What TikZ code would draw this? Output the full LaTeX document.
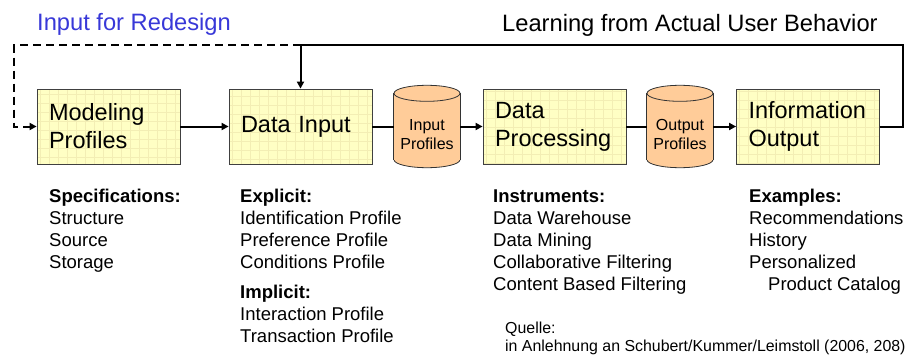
\documentclass[tikz,border=0pt]{standalone}
\usepackage{fontspec}
\setmainfont{Liberation Sans}
\usetikzlibrary{arrows.meta,calc,backgrounds}
\definecolor{boxfill}{HTML}{FFFFC4}
\definecolor{boxgrid}{HTML}{F3EEB4}
\definecolor{cylfill}{HTML}{FFCC99}
\definecolor{redesign}{HTML}{3838D8}

\begin{document}
\begin{tikzpicture}[x=1pt,y=-1pt,
    box/.style={rectangle, draw=black!75, line width=0.8pt, fill=boxfill,
        minimum width=143pt, minimum height=75pt, text width=119pt, inner xsep=12pt,
        align=left, font=\fontsize{23.5}{28}\selectfont,
        path picture={\draw[boxgrid, line width=0.4pt, step=9pt]
            (path picture bounding box.south west) grid (path picture bounding box.north east);}},
    store/.style={rectangle, minimum width=66pt, minimum height=66pt, inner sep=0pt,
        align=center, font=\fontsize{16}{19}\selectfont},
    cylline/.style={draw=black!80, line width=0.8pt, fill=cylfill},
    flow/.style={line width=2pt},
    tip/.style={-{Triangle[length=7pt,width=7pt]}},
    head/.style={anchor=base west, inner sep=0pt, font=\fontsize{23.7}{28}\selectfont},
    list/.style={anchor=base west, inner sep=0pt, align=left, font=\fontsize{18.5}{22}\selectfont}]

    \useasboundingbox (0,0) rectangle (912,356);

    % Kaesten und Speicher
    \node[box] (model) at (108.5,126.5) {Modeling\\Profiles};
    \node[box] (datain) at (300.5,126.5) {Data Input};
    \node[store] (inprof) at (427,134.5) {Input\\Profiles};
    \node[box] (dataproc) at (554.5,126.5) {Data\\Processing};
    \node[store] (outprof) at (680,134.5) {Output\\Profiles};
    \node[box] (infout) at (808,126.5) {Information\\Output};

    % Zylinder hinter den Speichertexten
    \begin{scope}[on background layer]
    \foreach \n in {inprof,outprof} {
        \filldraw[cylline] ($(\n.south)+(0,-8)$) ellipse [x radius=33, y radius=8];
        \fill[cylfill] ($(\n.south west)+(0,-8)$) rectangle ($(\n.north east)+(0,-8)$);
        \draw[cylline] ($(\n.south west)+(0,-8)$) -- ($(\n.north west)+(0,-8)$);
        \draw[cylline] ($(\n.south east)+(0,-8)$) -- ($(\n.north east)+(0,-8)$);
        \filldraw[cylline] ($(\n.north)+(0,-8)$) ellipse [x radius=33, y radius=8];
    }
    \end{scope}

    % Hauptfluss
    \draw[flow,tip] (model) -- (datain);
    \draw[flow] (datain.east) -- (datain.east -| inprof.west);
    \draw[flow,tip] (inprof.east |- dataproc.west) -- (dataproc.west);
    \draw[flow] (dataproc.east) -- (dataproc.east -| outprof.west);
    \draw[flow,tip] (outprof.east |- infout.west) -- (infout.west);

    % Rueckkopplung
    \coordinate (ecke) at (903,45);
    \coordinate (abzw) at (datain.north |- ecke);
    \coordinate (links) at (14,45);
    \draw[flow] (infout.east) -| (ecke) -- (abzw);
    \draw[flow,tip] (abzw) -- (datain.north);
    \draw[flow,tip,dash pattern=on 8pt off 5pt] (abzw) -- (links) |- (model.west);

    \node[head, text=redesign] (redesign) at (37,30) {Input for Redesign};
    \node[head] (learning) at (502,31) {Learning from Actual User Behavior};

    % Listen (Anker = letzte Zeile)
    \node[list] (spec) at (49,268) {\textbf{Specifications:}\\Structure\\Source\\Storage};
    \node[list] (expl) at (240,342) {\textbf{Explicit:}\\Identification Profile\\Preference Profile\\Conditions Profile\\[8pt]
        \textbf{Implicit:}\\Interaction Profile\\Transaction Profile};
    \node[list] (instr) at (493,290) {\textbf{Instruments:}\\Data Warehouse\\Data Mining\\Collaborative Filtering\\Content Based Filtering};
    \node[list] (examp) at (749,290) {\textbf{Examples:}\\Recommendations\\History\\Personalized\\\hspace*{19pt}Product Catalog};

    \node[list, font=\fontsize{15.9}{18}\selectfont] (quelle) at (505,351)
        {Quelle:\\in Anlehnung an Schubert/Kummer/Leimstoll (2006, 208)};
\end{tikzpicture}
\end{document}
